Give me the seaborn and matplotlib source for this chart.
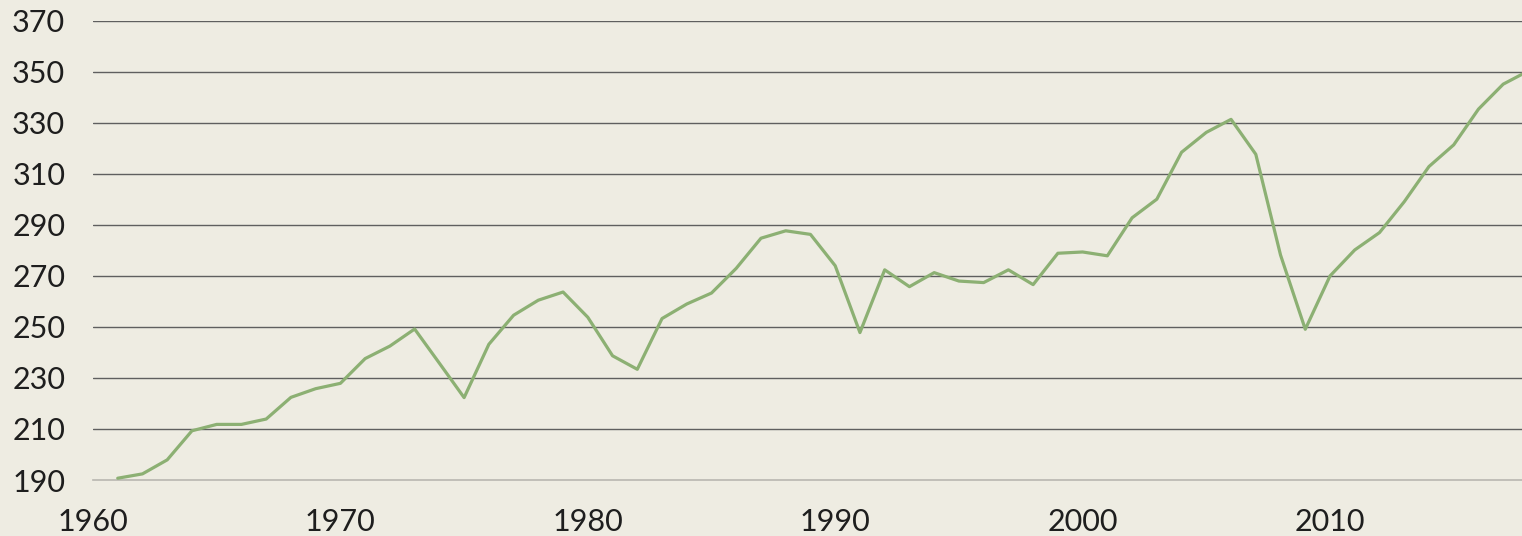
import matplotlib
matplotlib.use("Agg")
import matplotlib.pyplot as plt
import seaborn as sns
import pandas as pd

years = list(range(1961, 2019))
values = [190.7, 192.4, 197.9, 209.3, 211.8, 211.8, 213.9, 222.4, 225.8, 227.9,
          237.6, 242.5, 249.2, 235.8, 222.3, 243.2, 254.6, 260.5, 263.7, 253.8,
          238.7, 233.4, 253.3, 259.0, 263.3, 273.0, 284.8, 287.7, 286.3, 274.0,
          247.8, 272.4, 265.8, 271.3, 268.0, 267.4, 272.4, 266.6, 278.9, 279.4,
          277.9, 292.8, 300.1, 318.5, 326.3, 331.4, 317.7, 278.2, 249.1, 270.0,
          280.2, 287.0, 299.1, 312.9, 321.4, 335.4, 345.2, 350.3]
y_ticks = [190, 210, 230, 250, 270, 290, 310, 330, 350, 370]
x_ticks = [1960, 1970, 1980, 1990, 2000, 2010]

df = pd.DataFrame({"year": years, "value": values})

bg = "#EEECE2"
sns.set_theme(style="white")
plt.rcParams["font.family"] = ["Lato", "DejaVu Sans"]

fig = plt.figure(figsize=(15.22, 5.36), dpi=100, facecolor=bg)
ax = fig.add_axes([93 / 1522, 56 / 536, 1 - 93 / 1522, (480 - 20.9) / 536])
ax.set_facecolor(bg)

ax.set_ylim(190, 370)
ax.set_xlim(1960, 2017.76)
ax.set_yticks(y_ticks)
ax.set_xticks(x_ticks)
ax.set_yticklabels([str(t) for t in y_ticks])
ax.set_xticklabels([str(t) for t in x_ticks])

for t in y_ticks[1:]:
    ax.axhline(t, color="#5f5f5f", lw=1.0, zorder=1)

sns.lineplot(data=df, x="year", y="value", ax=ax, color="#8CB073", lw=2.3,
             zorder=3, clip_on=True)

for s in ["top", "right", "left"]:
    ax.spines[s].set_visible(False)
ax.spines["bottom"].set_color("#b8b6b0")
ax.spines["bottom"].set_linewidth(1.2)

ax.tick_params(axis="both", length=0, labelsize=22, labelcolor="#1e1e1e")
ax.tick_params(axis="y", pad=20)
ax.tick_params(axis="x", pad=20)
ax.set_xlabel("")
ax.set_ylabel("")

fig.savefig("out.png", dpi=100, facecolor=bg)
